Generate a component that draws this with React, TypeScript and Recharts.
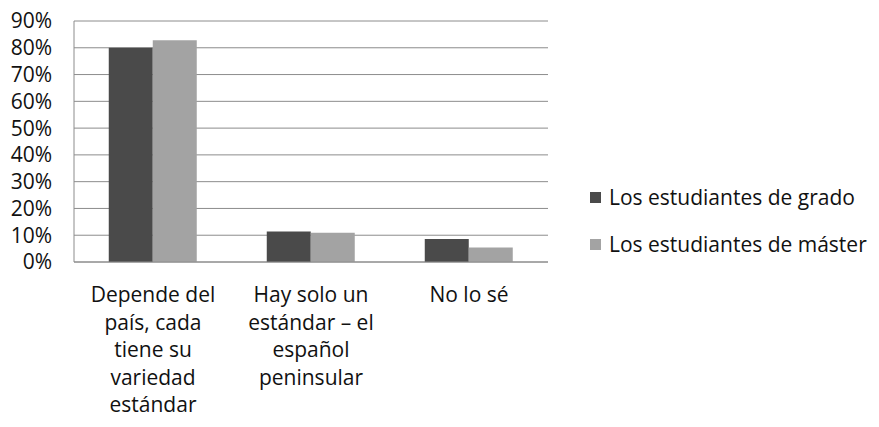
import { Bar, BarChart, CartesianGrid, XAxis, YAxis } from "recharts";

// Share of answers per option (percent).
const categories = ["Depende del país", "Hay solo un estándar", "No lo sé"];
const categoryLines = [
  ["Depende del", "país, cada", "tiene su", "variedad", "estándar"],
  ["Hay solo un", "estándar – el", "español", "peninsular"],
  ["No lo sé"],
];
const grado = [80, 11.4, 8.6];
const master = [82.8, 10.9, 5.4];
const yTicks = [0, 10, 20, 30, 40, 50, 60, 70, 80, 90];
const seriesNames = ["Los estudiantes de grado", "Los estudiantes de máster"];
const seriesColors = ["#4a4a4a", "#a3a3a3"];

const FONT = "'Open Sans', sans-serif";
const TEXT = "#111";

const data = categories.map((name, i) => ({
  name,
  grado: grado[i],
  master: master[i],
}));

function CategoryTick({ x, y, payload, index }: any) {
  const lines = categoryLines[index] ?? [String(payload.value)];
  return (
    <text x={x} y={y} textAnchor="middle" fill={TEXT} fontSize={21} fontFamily={FONT}>
      {lines.map((line, i) => (
        <tspan key={i} x={x} dy={i === 0 ? 32 : 27.5}>
          {line}
        </tspan>
      ))}
    </text>
  );
}

function Legend() {
  return (
    <div
      style={{
        position: "absolute",
        left: 590,
        top: 183,
        fontFamily: FONT,
        fontSize: 21,
        color: TEXT,
      }}
    >
      {seriesNames.map((name, i) => (
        <div key={name} style={{ display: "flex", alignItems: "center", height: 28, marginBottom: 19 }}>
          <span style={{ width: 11, height: 11, background: seriesColors[i], marginRight: 8 }} />
          {name}
        </div>
      ))}
    </div>
  );
}

export default function App() {
  return (
    <div style={{ position: "absolute", left: 0, top: 0, width: 879, height: 427, background: "#fff" }}>
      <BarChart
        width={879}
        height={427}
        data={data}
        margin={{ top: 21, right: 331, bottom: 0, left: 0 }}
        barCategoryGap="22%"
        barGap={0}
      >
        <CartesianGrid stroke="#8c8c8c" vertical={false} />
        <XAxis
          dataKey="name"
          height={165}
          tick={<CategoryTick />}
          tickLine={false}
          axisLine={{ stroke: "#8c8c8c" }}
          interval={0}
        />
        <YAxis
          width={74}
          domain={[0, 90]}
          ticks={yTicks}
          interval={0}
          tickFormatter={(v: number) => `${v}%`}
          tick={{ fill: TEXT, fontSize: 21, fontFamily: FONT }}
          tickLine={false}
          tickSize={0}
          tickMargin={22}
          axisLine={{ stroke: "#8c8c8c" }}
        />
        <Bar dataKey="grado" fill={seriesColors[0]} isAnimationActive={false} />
        <Bar dataKey="master" fill={seriesColors[1]} isAnimationActive={false} />
      </BarChart>
      <Legend />
    </div>
  );
}
